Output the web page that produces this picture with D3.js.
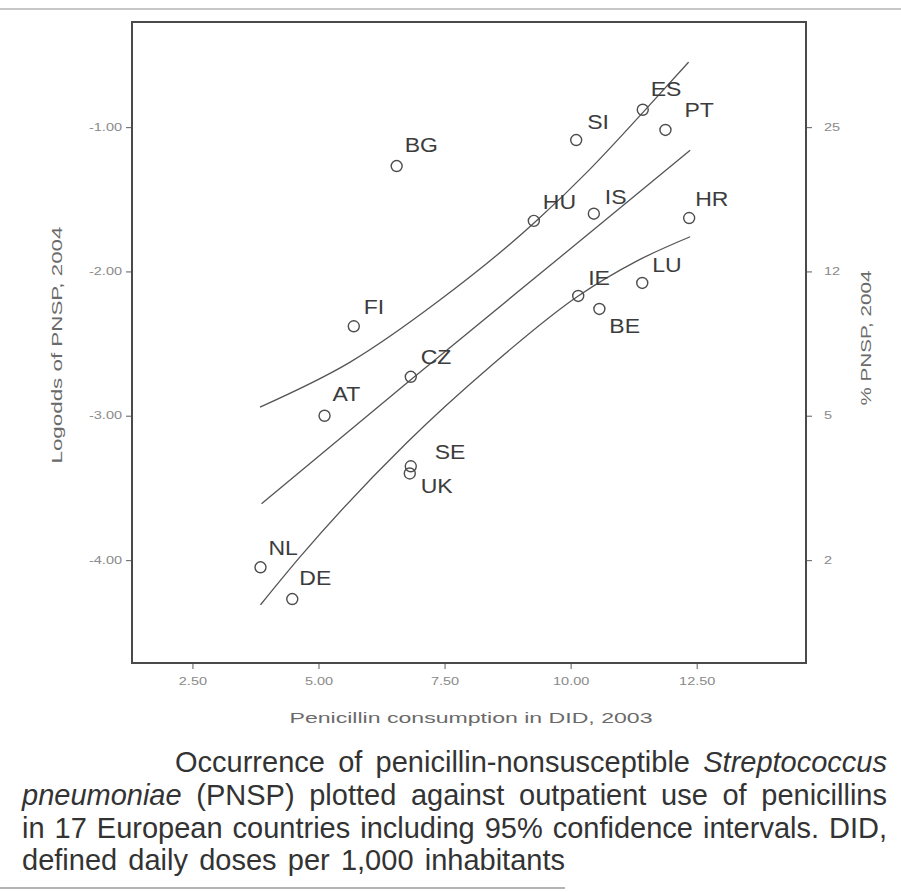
<!DOCTYPE html>
<html>
<head>
<meta charset="utf-8">
<script src="https://cdn.jsdelivr.net/npm/d3@7"></script>
<style>
  body { margin: 0; background: #fff; }
  svg { display: block; font-family: "Liberation Sans", Arial, sans-serif; }
</style>
</head>
<body>
<div id="chart"></div>
<script>
// data
var countries   = ["BG","SI","ES","PT","HU","IS","HR","IE","LU","BE","FI","CZ","AT","SE","UK","NL","DE"];
var consumption = [6.55,10.11,11.43,11.88,9.27,10.46,12.35,10.15,11.42,10.57,5.70,6.83,5.12,6.83,6.81,3.85,4.48];
var logodds     = [-1.27,-1.09,-0.88,-1.02,-1.65,-1.60,-1.63,-2.17,-2.08,-2.26,-2.38,-2.73,-3.00,-3.35,-3.40,-4.05,-4.27];

var fitX   = [3.87, 6.83, 10.46, 12.37];
var fitY   = [-3.61, -2.75, -1.71, -1.16];
var upperX = [3.84, 5.62, 7.40, 9.29, 10.36, 11.43, 12.34];
var upperY = [-2.94, -2.63, -2.20, -1.66, -1.30, -0.90, -0.55];
var lowerX = [3.85, 4.63, 6.74, 8.40, 10.15, 11.30, 12.37];
var lowerY = [-4.31, -3.98, -3.19, -2.66, -2.17, -1.93, -1.76];

var xTicks = [2.5, 5, 7.5, 10, 12.5];
var yTicks = [-1, -2, -3, -4];
var pctLabels = ["25", "12", "5", "2"];

// where each country label sits relative to its circle
var labelOffset = {
  BG:[8,-14], SI:[11,-11], ES:[8,-14], PT:[19,-13], HU:[9,-12], IS:[11,-10],
  HR:[6,-12], IE:[10,-11], LU:[10,-11], BE:[10,24], FI:[10,-12], CZ:[10,-13],
  AT:[8,-15], SE:[24,-7], UK:[11,20], NL:[8,-12], DE:[7,-14]
};

var W = 901, H = 892;
var frame = {left: 132, right: 806, top: 22, bottom: 663};

var svg = d3.select("#chart").append("svg")
    .attr("width", W)
    .attr("height", H);

// thin rule along the top of the page
svg.append("line")
    .attr("x1", 0).attr("x2", W).attr("y1", 9).attr("y2", 9)
    .attr("stroke", "#b5b5b5").attr("stroke-width", 1.5);

var x = d3.scaleLinear().domain([1.302, 14.667]).range([frame.left, frame.right]);
var y = d3.scaleLinear().domain([-0.272, -4.713]).range([frame.top, frame.bottom]);

function stretch(sel, k) {
  sel.each(function() {
    var len = this.getComputedTextLength();
    d3.select(this).attr("textLength", len * k).attr("lengthAdjust", "spacingAndGlyphs");
  });
}

// axes
var xAxis = svg.append("g")
    .attr("transform", "translate(0," + frame.bottom + ")")
    .call(d3.axisBottom(x).tickValues(xTicks).tickSize(6).tickPadding(9)
          .tickFormat(function(d) { return d.toFixed(2); }));

var yAxis = svg.append("g")
    .attr("transform", "translate(" + frame.left + ",0)")
    .call(d3.axisLeft(y).tickValues(yTicks).tickSize(6).tickPadding(4)
          .tickFormat(function(d) { return d.toFixed(2); }));

var y2Axis = svg.append("g")
    .attr("transform", "translate(" + frame.right + ",0)")
    .call(d3.axisRight(y).tickValues(yTicks).tickSize(6).tickPadding(12)
          .tickFormat(function(d, i) { return pctLabels[i]; }));

[xAxis, yAxis, y2Axis].forEach(function(a) {
  a.select(".domain").remove();
  a.selectAll(".tick line").attr("stroke", "#777").attr("stroke-width", 1.2);
  a.selectAll(".tick text")
      .style("font-family", "'Liberation Sans', Arial, sans-serif")
      .attr("font-size", 10)
      .attr("fill", "#8a8a8a");
  stretch(a.selectAll(".tick text"), 1.45);
});

// plot frame
svg.append("rect")
    .attr("x", frame.left).attr("y", frame.top)
    .attr("width", frame.right - frame.left)
    .attr("height", frame.bottom - frame.top)
    .attr("fill", "none")
    .attr("stroke", "#4a4a4a")
    .attr("stroke-width", 2);

// axis titles
svg.append("text")
    .attr("x", (frame.left + frame.right) / 2 + 2)
    .attr("y", 723)
    .attr("text-anchor", "middle")
    .attr("font-size", 15)
    .attr("fill", "#6a6a6a")
    .attr("textLength", 363)
    .attr("lengthAdjust", "spacingAndGlyphs")
    .text("Penicillin consumption in DID, 2003");

svg.append("text")
    .attr("transform", "translate(62,345) rotate(-90)")
    .attr("text-anchor", "middle")
    .attr("font-size", 15)
    .attr("fill", "#6a6a6a")
    .attr("textLength", 237)
    .attr("lengthAdjust", "spacingAndGlyphs")
    .text("Logodds of PNSP, 2004");

svg.append("text")
    .attr("transform", "translate(871,338) rotate(-90)")
    .attr("text-anchor", "middle")
    .attr("font-size", 15)
    .attr("fill", "#6a6a6a")
    .attr("textLength", 135)
    .attr("lengthAdjust", "spacingAndGlyphs")
    .text("% PNSP, 2004");

// regression line and 95% bands
var straight = d3.line().x(function(d) { return x(d[0]); }).y(function(d) { return y(d[1]); });
var smooth = d3.line().curve(d3.curveMonotoneX).x(function(d) { return x(d[0]); }).y(function(d) { return y(d[1]); });

svg.append("path")
    .datum(d3.zip(fitX, fitY))
    .attr("d", straight)
    .attr("fill", "none").attr("stroke", "#555").attr("stroke-width", 1.3);

svg.append("path")
    .datum(d3.zip(upperX, upperY))
    .attr("d", smooth)
    .attr("fill", "none").attr("stroke", "#555").attr("stroke-width", 1.3);

svg.append("path")
    .datum(d3.zip(lowerX, lowerY))
    .attr("d", smooth)
    .attr("fill", "none").attr("stroke", "#555").attr("stroke-width", 1.3);

// countries
var pts = countries.map(function(c, i) { return {c: c, x: consumption[i], y: logodds[i]}; });

svg.selectAll("circle.pt")
    .data(pts)
  .enter().append("circle")
    .attr("class", "pt")
    .attr("cx", function(d) { return x(d.x); })
    .attr("cy", function(d) { return y(d.y); })
    .attr("r", 5.5)
    .attr("fill", "none")
    .attr("stroke", "#4d4d4d")
    .attr("stroke-width", 1.4);

var labels = svg.selectAll("text.lab")
    .data(pts)
  .enter().append("text")
    .attr("class", "lab")
    .attr("x", function(d) { return x(d.x) + labelOffset[d.c][0]; })
    .attr("y", function(d) { return y(d.y) + labelOffset[d.c][1]; })
    .attr("font-size", 20)
    .attr("fill", "#3c3c3c")
    .text(function(d) { return d.c; });
stretch(labels, 1.15);

// caption, justified by hand
var caption = [
  {x0: 175, x1: 887, words: [["Occurrence"],["of"],["penicillin-nonsusceptible"],["Streptococcus", 1]]},
  {x0: 22,  x1: 887, words: [["pneumoniae", 1],["(PNSP)"],["plotted"],["against"],["outpatient"],["use"],["of"],["penicillins"]]},
  {x0: 22,  x1: 887, words: [["in"],["17"],["European"],["countries"],["including"],["95%"],["confidence"],["intervals."],["DID,"]]},
  {x0: 22,  x1: 565, words: [["defined"],["daily"],["doses"],["per"],["1,000"],["inhabitants"]]}
];
var capBase = [772, 805, 838, 870];

caption.forEach(function(line, li) {
  var g = svg.append("g");
  var nodes = line.words.map(function(w) {
    return g.append("text")
        .attr("y", capBase[li])
        .attr("font-size", 29)
        .attr("fill", "#333")
        .attr("font-style", w[1] ? "italic" : "normal")
        .text(w[0]);
  });
  var widths = nodes.map(function(n) { return n.node().getComputedTextLength(); });
  var gap = (line.x1 - line.x0 - d3.sum(widths)) / (nodes.length - 1);
  var cx = line.x0;
  nodes.forEach(function(n, i) {
    n.attr("x", cx);
    cx += widths[i] + gap;
  });
});

// rule under the caption
svg.append("line")
    .attr("x1", 0).attr("x2", 565).attr("y1", 888).attr("y2", 888)
    .attr("stroke", "#9a9a9a").attr("stroke-width", 1.5);
</script>
</body>
</html>
